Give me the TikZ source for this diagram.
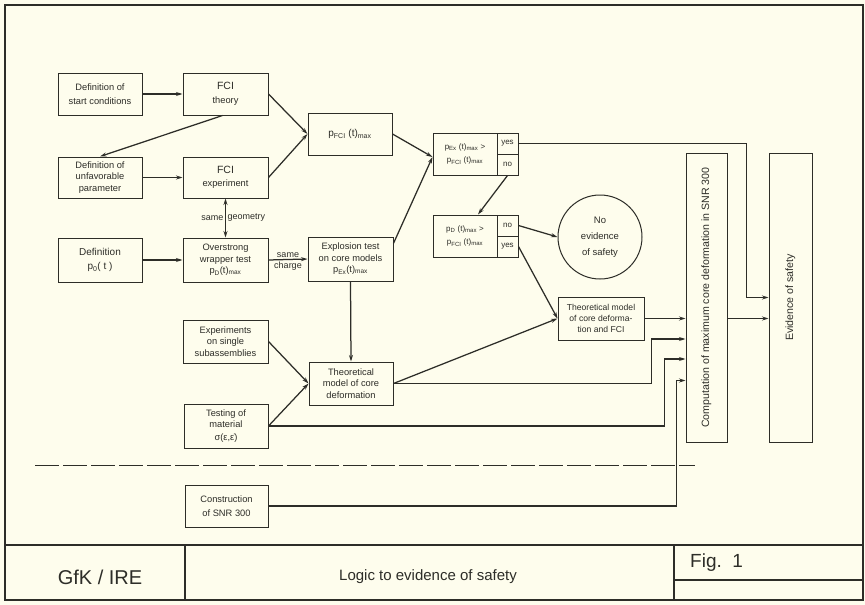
\documentclass[tikz,border=0pt]{standalone}
\usepackage{fontspec}
\setmainfont{Liberation Sans}
\usetikzlibrary{arrows.meta,calc}
\definecolor{paper}{RGB}{254,253,237}
\definecolor{ink}{RGB}{45,45,40}
\begin{document}
\begin{tikzpicture}[x=1pt,y=-1pt,
  box/.style={draw=ink, line width=1pt, fill=paper, inner sep=1pt, align=center,
              font=\fontsize{9.3}{11.5}\selectfont, text=ink},
  conn/.style={draw=ink, line width=1.25pt},
  arr/.style={conn, -{Stealth[length=6.5pt,width=4pt]}},
  lbl/.style={font=\fontsize{9}{10}\selectfont, text=ink, inner sep=1.5pt},
  frame/.style={draw=ink, line width=1.4pt},
]
\useasboundingbox (0,0) rectangle (865,605);
\fill[paper] (0,0) rectangle (865,605);
\draw[frame] (5,5) rectangle (863,600);
% title block
\draw[frame] (5,545) -- (863,545);
\draw[frame] (185,545) -- (185,600);
\draw[frame] (674,545) -- (674,600);
\draw[frame] (674,580) -- (863,580);
\node[text=ink, font=\fontsize{20}{22}\selectfont] (gfk) at (100,577) {GfK / IRE};
\node[text=ink, font=\fontsize{15}{17}\selectfont] (ttl) at (428,577) {Logic to evidence of safety};
\node[text=ink, font=\fontsize{19}{21}\selectfont, anchor=west, inner sep=0pt] (fig) at (690,563) {Fig.\ \ 1};

% dashed separator
\draw[conn, line width=1pt, dash pattern=on 24pt off 4pt] (35,465) -- (695,465);

% boxes
\node[box, minimum width=84, minimum height=42] (start) at (100,94) {Definition of\\[2pt]start conditions};
\node[box, minimum width=85, minimum height=42] (theory) at (225.5,94) {{\fontsize{10.5}{12}\selectfont FCI}\\[2pt]theory};
\node[box, minimum width=84, minimum height=41] (unfav) at (100,177.5) {Definition of\\unfavorable\\parameter};
\node[box, minimum width=85, minimum height=41] (exper) at (225.5,177.5) {{\fontsize{10.5}{12}\selectfont FCI}\\[2pt]experiment};
\node[box, minimum width=84, minimum height=44] (defp) at (100,260) {{\fontsize{10}{12}\selectfont Definition}\\[3pt]{\fontsize{10}{12}\selectfont p\textsubscript{0}( t )}};
\node[box, minimum width=85, minimum height=44] (wrap) at (225.5,260) {Overstrong\\wrapper test\\p\textsubscript{D}(t)\textsubscript{max}};
\node[box, minimum width=84, minimum height=42] (pfci) at (350,134) {{\fontsize{10}{12}\selectfont p\textsubscript{FCI} (t)\textsubscript{max}}};
\node[box, minimum width=85, minimum height=44] (explo) at (350.5,259) {Explosion test\\on core models\\p\textsubscript{Ex}(t)\textsubscript{max}};

% decision 1
\node[box, minimum width=64, minimum height=42, font=\fontsize{8}{13}\selectfont] (dec1) at (465,154)
  {p\textsubscript{Ex} (t)\textsubscript{max} >\\p\textsubscript{FCI} (t)\textsubscript{max}};
\node[box, minimum width=21, minimum height=21, font=\fontsize{8}{9}\selectfont] (yes1) at (507.5,143.5) {yes};
\node[box, minimum width=21, minimum height=21, font=\fontsize{8}{9}\selectfont] (no1) at (507.5,164.5) {no};
% decision 2
\node[box, minimum width=64, minimum height=42, font=\fontsize{8}{13}\selectfont] (dec2) at (465,236)
  {p\textsubscript{D} (t)\textsubscript{max} >\\p\textsubscript{FCI} (t)\textsubscript{max}};
\node[box, minimum width=21, minimum height=21, font=\fontsize{8}{9}\selectfont] (no2) at (507.5,225.5) {no};
\node[box, minimum width=21, minimum height=21, font=\fontsize{8}{9}\selectfont] (yes2) at (507.5,246.5) {yes};

\node[box, circle, minimum size=84, font=\fontsize{9.5}{12}\selectfont] (noev) at (600,237) {No\\[4pt]evidence\\[4pt]of safety};
\node[box, minimum width=86, minimum height=43, font=\fontsize{8.6}{11}\selectfont] (tmfci) at (601,318.5) {Theoretical model\\of core deforma-\\tion and FCI};
\node[box, minimum width=85, minimum height=43] (single) at (225.5,341.5) {Experiments\\on single\\subassemblies};
\node[box, minimum width=84, minimum height=43] (tmcore) at (351,383.5) {Theoretical\\model of core\\deformation};
\node[box, minimum width=84, minimum height=44, font=\fontsize{9.3}{11.5}\selectfont] (testm) at (226,426) {Testing of\\material\\[1pt]σ(ε,ε̇)};
\node[box, minimum width=83, minimum height=42] (constr) at (226.5,506) {Construction\\[3pt]of SNR 300};

\node[box, minimum width=41, minimum height=289] (comp) at (706.5,297.5) {};
\node[text=ink, rotate=90, font=\fontsize{10.6}{12}\selectfont] (compt) at (comp.center) {Computation of maximum core deformation in SNR 300};
\node[box, minimum width=43, minimum height=289] (evid) at (790.5,297.5) {};
\node[text=ink, rotate=90, font=\fontsize{10.6}{12}\selectfont] (evidt) at (evid.center) {Evidence of safety};

% connectors
\draw[arr] (start.east) -- (theory.west);
\draw[arr] ($(theory.south)+(-3,0)$) -- (unfav.north);
\draw[arr] (unfav.east) -- (exper.west);
\draw[arr] (theory.east) -- (pfci.west);
\draw[arr] (exper.east) -- (pfci.west);
\draw[conn, {Stealth[length=6.5pt,width=4pt]}-{Stealth[length=6.5pt,width=4pt]}] (exper.south) -- (wrap.north)
  node[midway, left, lbl] (sg1) {same} node[midway, right, lbl] (sg2) {geometry};
\draw[arr] (defp.east) -- (wrap.west);
\draw[arr] (wrap.east) -- (explo.west)
  node[midway, above, lbl] (sc1) {same} node[midway, below, lbl] (sc2) {charge};
\draw[arr] (pfci.east) -- ($(dec1.west)+(0,3)$);
\draw[arr] (explo.20) -- ($(dec1.west)+(0,3)$);
\draw[arr] (explo.south) -- (tmcore.north);
\draw[arr] (single.east) -- (tmcore.west);
\draw[arr] (testm.east) -- (tmcore.west);
\draw[arr] (no1.south) -- ($(dec2.north)+(13,0)$);
\draw[arr] (no2.east) -- (noev.west);
\draw[arr] (yes2.east) -- (tmfci.west);
\draw[arr] (tmcore.east) -- (tmfci.west);
\draw[arr] (tmfci.east) -- (tmfci.east -| comp.west);
\draw[arr] (tmcore.east) -| ($(comp.west)+(-34,41.5)$) -- ($(comp.west)+(0,41.5)$);
\draw[arr] (testm.east) -| ($(comp.west)+(-21,61.5)$) -- ($(comp.west)+(0,61.5)$);
\draw[arr] (constr.east) -| ($(comp.west)+(-9,83)$) -- ($(comp.west)+(0,83)$);
\draw[arr] (yes1.east) -| ($(evid.west)+(-22,0)$) -- (evid.west);
\draw[arr] (tmfci.east -| comp.east) -- (tmfci.east -| evid.west);
\end{tikzpicture}
\end{document}
